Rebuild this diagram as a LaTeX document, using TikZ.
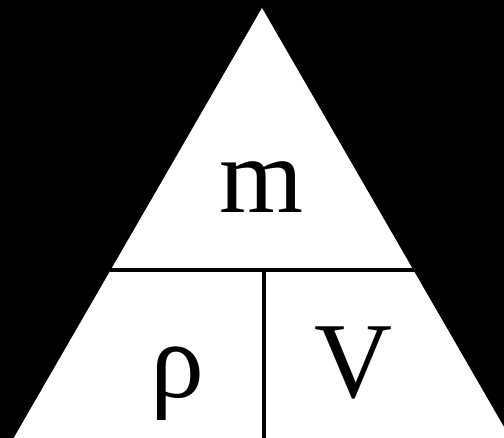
\documentclass[tikz,border=0pt]{standalone}
\usepackage{fontspec}
\setmainfont{Liberation Serif}
\usetikzlibrary{calc}
\begin{document}
\begin{tikzpicture}[x=1pt,y=-1pt,
  sym/.style={anchor=base,inner sep=0pt,font=\fontsize{108}{120}\selectfont},
  divider/.style={line width=3.5pt,black}]
\useasboundingbox (0,0) rectangle (504,438);
\clip (0,0) rectangle (504,438);
\fill[black] (0,0) rectangle (504,438);
\coordinate (apex) at (262,8);
\fill[white] (apex) -- ($(apex)+(-250.6,434)$) -- ($(apex)+(250.6,434)$) -- cycle;
\coordinate (hl) at (110,270);
\coordinate (hr) at (415,270);
\coordinate (vt) at (264,270);
\coordinate (vb) at (264,440);
\draw[divider] (hl) -- (hr);
\draw[divider] (vt) -- (vb);
\node[sym] (m) at (262,213) {m};
\node[sym] (rho) at (177,398) {ρ};
\node[sym] (V) at (353,398) {V};
\end{tikzpicture}
\end{document}
